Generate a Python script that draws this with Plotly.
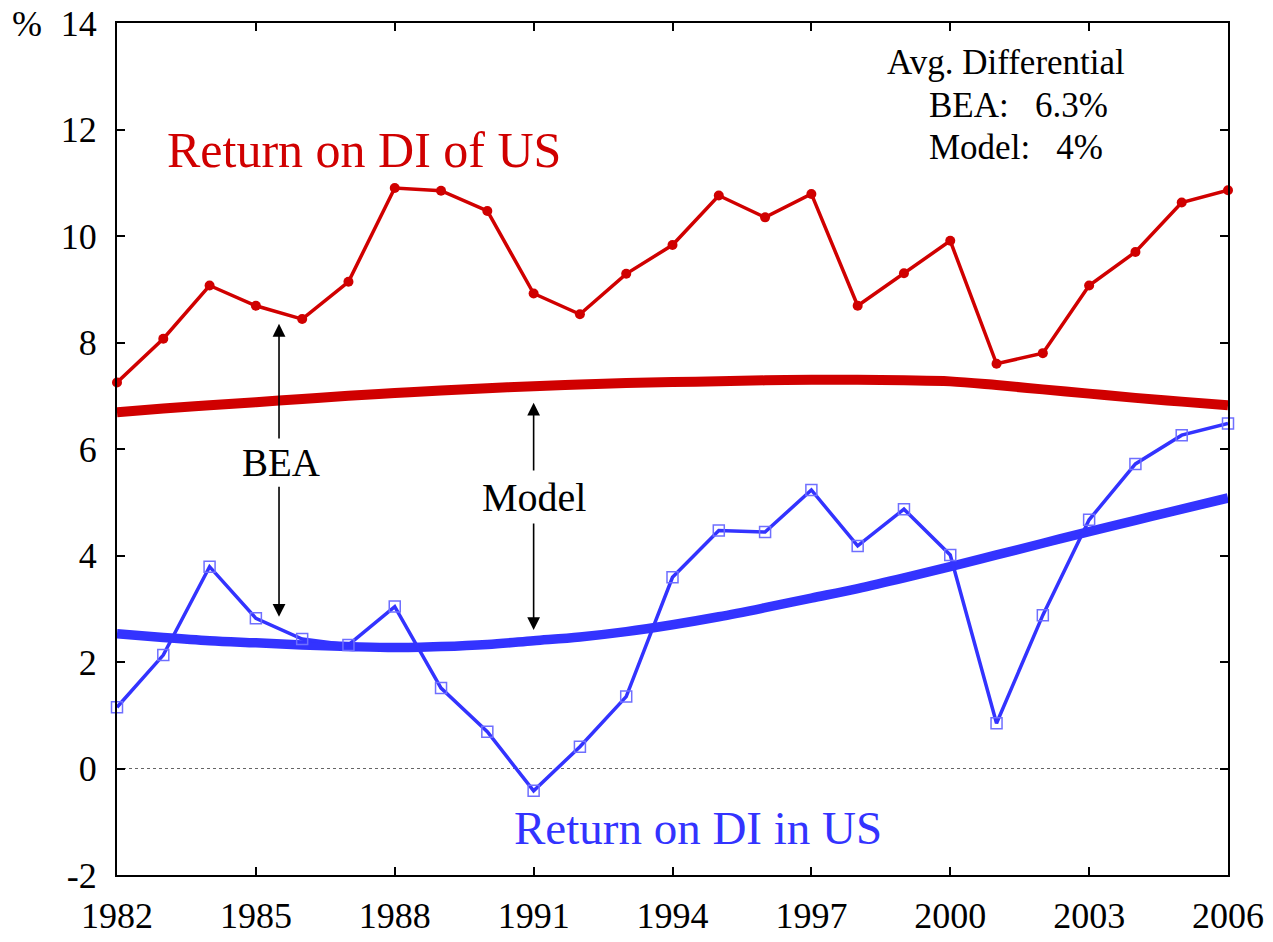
import plotly.graph_objects as go

years = list(range(1982, 2007))

# BEA returns (thin lines with markers)
ret_of_us = [7.25, 8.07, 9.07, 8.69, 8.44, 9.14, 10.90, 10.85, 10.47, 8.92, 8.53, 9.29,
             9.83, 10.76, 10.35, 10.79, 8.69, 9.30, 9.91, 7.60, 7.80, 9.07, 9.70, 10.63, 10.86]
ret_in_us = [1.15, 2.13, 3.79, 2.82, 2.43, 2.32, 3.04, 1.51, 0.69, -0.42, 0.41, 1.35,
             3.59, 4.47, 4.44, 5.23, 4.18, 4.87, 4.01, 0.85, 2.88, 4.67, 5.72, 6.26, 6.48]

# model returns (thick lines)
model_of_us = [6.69, 6.76, 6.82, 6.88, 6.94, 7.00, 7.05, 7.10, 7.14, 7.18, 7.21, 7.24,
               7.26, 7.27, 7.29, 7.30, 7.30, 7.29, 7.27, 7.20, 7.12, 7.04, 6.96, 6.89, 6.82]
model_in_us = [2.53, 2.46, 2.40, 2.36, 2.32, 2.29, 2.27, 2.29, 2.33, 2.40, 2.47, 2.57,
               2.70, 2.85, 3.02, 3.20, 3.38, 3.58, 3.79, 4.01, 4.23, 4.45, 4.66, 4.87, 5.08]

x_ticks = list(range(1982, 2007, 3))
y_ticks = list(range(-2, 15, 2))

RED = "#d00000"
BLUE = "#3333ff"
FONT = "Liberation Serif"

fig = go.Figure()

fig.add_hline(y=0, line=dict(color="#666666", width=1, dash="dot"), layer="below")

fig.add_trace(go.Scatter(x=years, y=model_of_us, mode="lines",
                         line=dict(color=RED, width=10), line_shape="spline"))
fig.add_trace(go.Scatter(x=years, y=model_in_us, mode="lines",
                         line=dict(color=BLUE, width=9.5), line_shape="spline"))

fig.add_trace(go.Scatter(x=years, y=ret_of_us, mode="lines+markers", cliponaxis=False,
                         line=dict(color=RED, width=3.5),
                         marker=dict(symbol="circle", size=10, color=RED)))
fig.add_trace(go.Scatter(x=years, y=ret_in_us, mode="lines+markers", cliponaxis=False,
                         line=dict(color=BLUE, width=3.5),
                         marker=dict(symbol="square-open", size=11, color="#6f6fff",
                                     line=dict(width=1.5))))

anns = []
# text labels
anns.append(dict(x=1987.34, y=11.61, text="Return on DI of US", showarrow=False,
                 font=dict(family=FONT, size=50, color=RED)))
anns.append(dict(x=1994.55, y=-1.12, text="Return on DI in US", showarrow=False,
                 font=dict(family=FONT, size=47, color=BLUE)))
anns.append(dict(x=1998.58, y=13.25, text="Avg. Differential", showarrow=False,
                 xanchor="left", font=dict(family=FONT, size=35)))
anns.append(dict(x=1999.5, y=12.46, text="BEA:\u00a0\u00a0\u00a06.3%", showarrow=False,
                 xanchor="left", font=dict(family=FONT, size=35)))
anns.append(dict(x=1999.5, y=11.67, text="Model:\u00a0\u00a0\u00a04%", showarrow=False,
                 xanchor="left", font=dict(family=FONT, size=35)))
anns.append(dict(x=1985.55, y=5.74, text="BEA", showarrow=False,
                 font=dict(family=FONT, size=39)))
anns.append(dict(x=1991.0, y=5.08, text="Model", showarrow=False,
                 font=dict(family=FONT, size=40)))
anns.append(dict(xref="paper", yref="paper", x=-0.081, y=0.999, text="%", showarrow=False,
                 xanchor="center", yanchor="middle", font=dict(family=FONT, size=36)))

# arrows: (head x, head y, tail y)
for hx, hy, ty in [(1985.5, 8.35, 6.17), (1985.5, 2.85, 5.32),
                   (1991.0, 6.87, 5.57), (1991.0, 2.60, 4.63)]:
    anns.append(dict(x=hx, y=hy, ax=hx, ay=ty, axref="x", ayref="y", text="",
                     showarrow=True, arrowhead=2, arrowsize=1.6, arrowwidth=1.6,
                     arrowcolor="black", standoff=0, startstandoff=0))

# page body has an 8px margin, so the figure is sized to fit inside the window
fig.update_layout(
    width=1265, height=934,
    margin=dict(l=109, r=45, t=15, b=67),
    paper_bgcolor="white", plot_bgcolor="white",
    showlegend=False,
    font=dict(family=FONT, size=36, color="black"),
    annotations=anns,
)
fig.update_xaxes(range=[1982, 2006], tickvals=x_ticks, ticktext=[str(v) for v in x_ticks],
                 showgrid=False, zeroline=False, showline=True, linecolor="black",
                 linewidth=2, mirror="allticks", ticks="inside", ticklen=8, tickwidth=2,
                 tickcolor="black", ticklabelstandoff=8, automargin=False,
                 ticklabeloverflow="allow",
                 tickfont=dict(family=FONT, size=36, color="black"))
fig.update_yaxes(range=[-2, 14], tickvals=y_ticks, ticktext=[str(v) for v in y_ticks],
                 showgrid=False, zeroline=False, showline=True, linecolor="black",
                 linewidth=2, mirror="allticks", ticks="inside", ticklen=8, tickwidth=2,
                 tickcolor="black", ticklabelstandoff=11, automargin=False,
                 ticklabeloverflow="allow",
                 tickfont=dict(family=FONT, size=36, color="black"))

fig.write_html("out.html")
